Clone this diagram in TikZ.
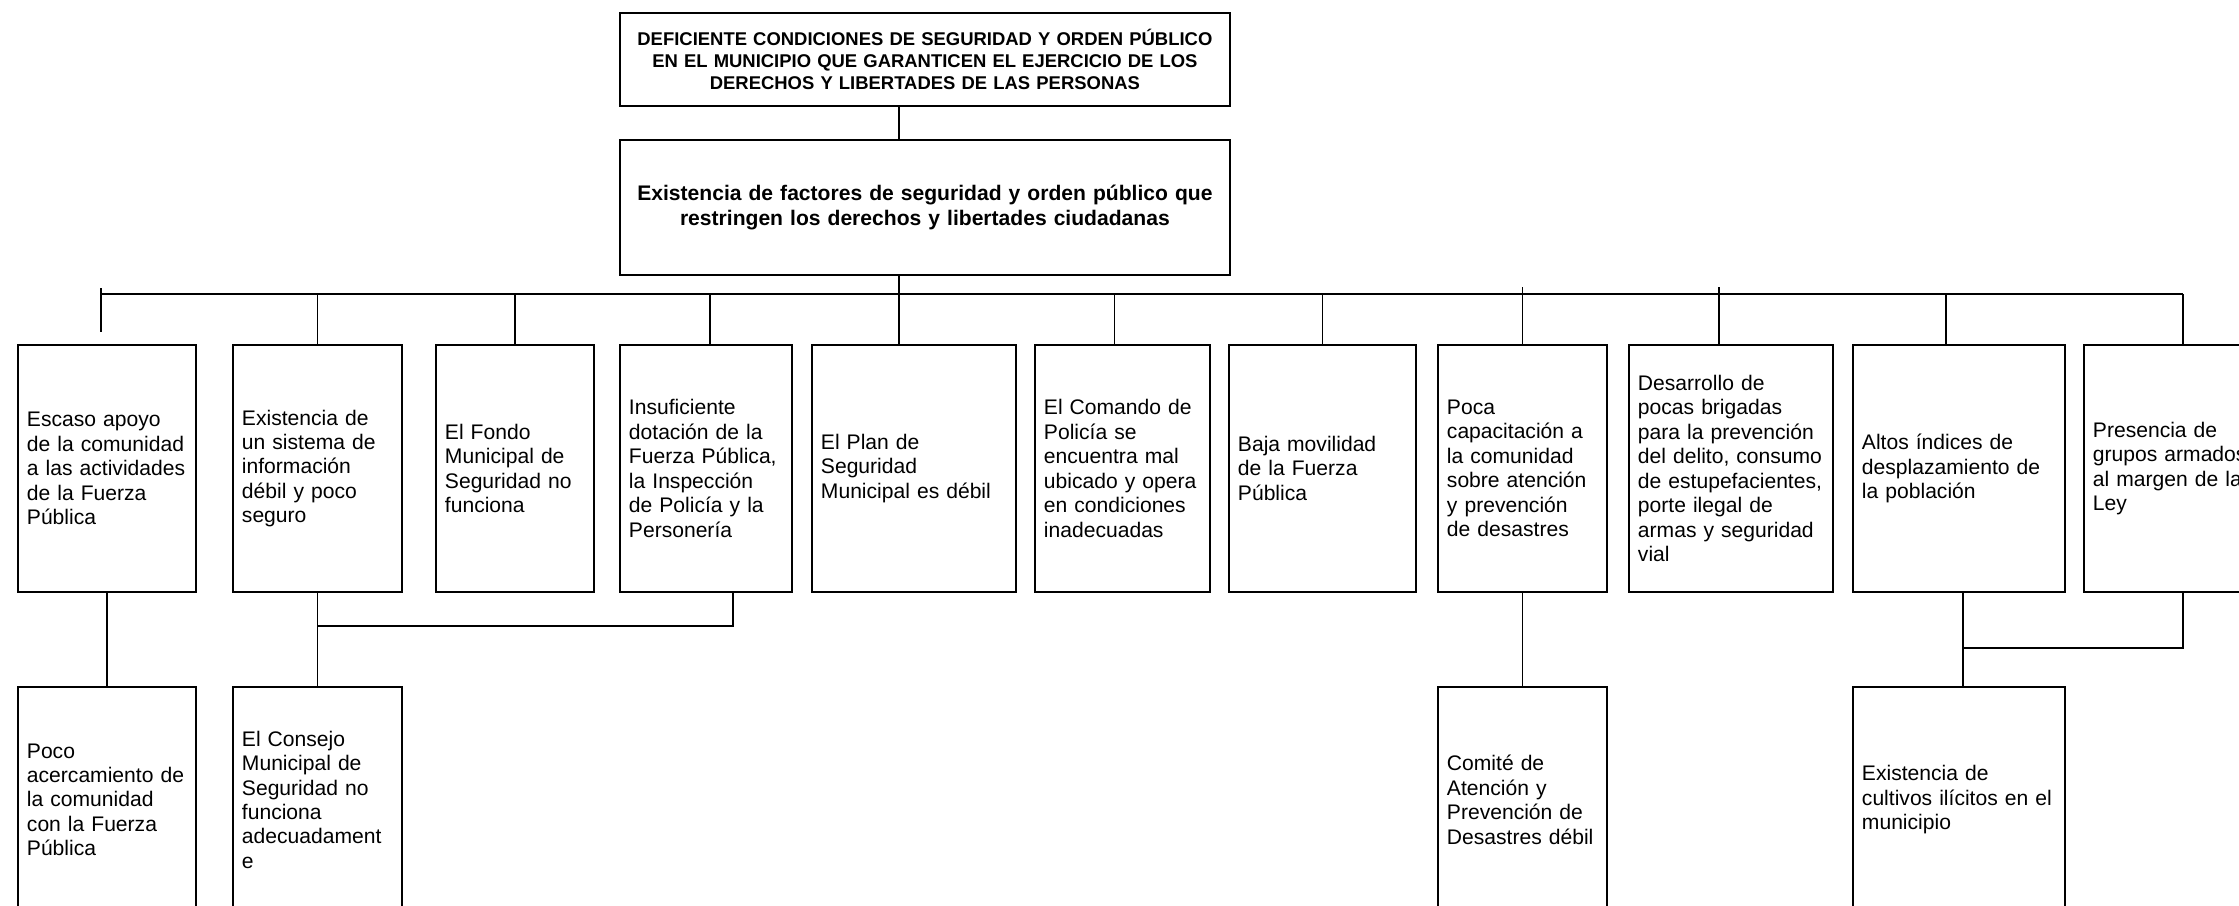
\documentclass[tikz,border=0pt]{standalone}
\usepackage{fontspec}
\setmainfont{Liberation Sans}
\usetikzlibrary{positioning}
\tikzset{
    linea/.style = {line width=0.8pt},
    caja/.style ={draw, line width=1.1pt, anchor=north west, align=left, inner xsep=0.18cm, minimum height=4.94cm, font=\fontsize{12}{13.9}\selectfont},
    baja/.style ={caja, minimum height=4.52cm},
    titulo/.style ={draw, line width=1.1pt, anchor=north west, align=center, text width=11.8cm, inner xsep=0.2cm, font=\bfseries\fontsize{10.5}{12.5}\selectfont}
}
\begin{document}
\begin{tikzpicture}[x=0.02cm, y=-0.02cm]
  \useasboundingbox (0,0) rectangle (2239,906);
  \clip (0,0) rectangle (2239,906);

  \node[titulo, minimum height=1.86cm] (1) at (619,12) {DEFICIENTE CONDICIONES DE SEGURIDAD Y ORDEN PÚBLICO\\ EN EL MUNICIPIO QUE GARANTICEN EL EJERCICIO DE LOS\\ DERECHOS Y LIBERTADES DE LAS PERSONAS};
  \node[titulo, minimum height=2.7cm, font=\bfseries\fontsize{12}{14.6}\selectfont] (2) at (619,139) {Existencia de factores de seguridad y orden público que\\ restringen los derechos y libertades ciudadanas};

  % causas
  \node[caja, text width=3.2cm] (3) at (17,344) {Escaso apoyo\\ de la comunidad\\ a las actividades\\ de la Fuerza\\ Pública};
  \node[caja, text width=3.02cm] (4) at (232,344) {Existencia de\\ un sistema de\\ información\\ débil y poco\\ seguro};
  \node[caja, text width=2.8cm] (5) at (435,344) {El Fondo\\ Municipal de\\ Seguridad no\\ funciona};
  \node[caja, text width=3.08cm] (6) at (619,344) {Insuficiente\\ dotación de la\\ Fuerza Pública,\\ la Inspección\\ de Policía y la\\ Personería};
  \node[caja, text width=3.72cm] (7) at (811,344) {El Plan de\\ Seguridad\\ Municipal es débil};
  \node[caja, text width=3.14cm] (8) at (1034,344) {El Comando de\\ Policía se\\ encuentra mal\\ ubicado y opera\\ en condiciones\\ inadecuadas};
  \node[caja, text width=3.38cm] (9) at (1228,344) {Baja movilidad\\ de la Fuerza\\ Pública};
  \node[caja, text width=3.02cm] (10) at (1437,344) {Poca\\ capacitación a\\ la comunidad\\ sobre atención\\ y prevención\\ de desastres};
  \node[caja, text width=3.72cm] (11) at (1628,344) {Desarrollo de\\ pocas brigadas\\ para la prevención\\ del delito, consumo\\ de estupefacientes,\\ porte ilegal de\\ armas y seguridad\\ vial};
  \node[caja, text width=3.88cm] (12) at (1852,344) {Altos índices de\\ desplazamiento de\\ la población};
  \node[caja, text width=3.6cm] (13) at (2083,344) {Presencia de\\ grupos armados\\ al margen de la\\ Ley};

  % segundo nivel
  \node[baja, text width=3.2cm, below=1.86cm of 3] (14) {Poco\\ acercamiento de\\ la comunidad\\ con la Fuerza\\ Pública};
  \node[baja, text width=3.02cm, below=1.86cm of 4] (15) {El Consejo\\ Municipal de\\ Seguridad no\\ funciona\\ adecuadament\\ e};
  \node[baja, text width=3.02cm, below=1.86cm of 10] (16) {Comité de\\ Atención y\\ Prevención de\\ Desastres débil};
  \node[baja, text width=3.88cm, below=1.86cm of 12] (17) {Existencia de\\ cultivos ilícitos en el\\ municipio};

  \coordinate (bus) at (0,294);
  \draw[linea] ([xshift=-0.52cm]1.south) -- ([xshift=-0.52cm]2.north);
  \draw[linea] ([xshift=-0.52cm]2.south) -- ([xshift=-0.52cm]2.south |- 7.north);
  \draw[linea] ([xshift=-0.12cm]3.north |- bus) -- (13.north |- bus);
  \draw[linea] ([xshift=-0.12cm,yshift=0.12cm]3.north |- bus) -- ([xshift=-0.12cm,yshift=0.24cm]3.north);
  \foreach \n/\dx in {4/0,5/0,6/0.08,8/-0.16,9/0,12/-0.26,13/0}
    \draw[linea] ([xshift=\dx cm]\n.north |- bus) -- ([xshift=\dx cm]\n.north);
  \foreach \n/\dx in {10/0,11/-0.24}
    \draw[linea] ([xshift=\dx cm,yshift=0.14cm]\n.north |- bus) -- ([xshift=\dx cm]\n.north);

  \path[linea] (3) edge (14) (4) edge (15) (10) edge (16);
  \draw[linea] ([xshift=0.08cm]12.south) -- ([xshift=0.08cm]17.north);
  \draw[linea] ([xshift=0.54cm]6.south) |- ([yshift=-0.66cm]4.south);
  \draw[linea] (13.south) |- ([xshift=0.08cm,yshift=-1.1cm]12.south);
\end{tikzpicture}
\end{document}
